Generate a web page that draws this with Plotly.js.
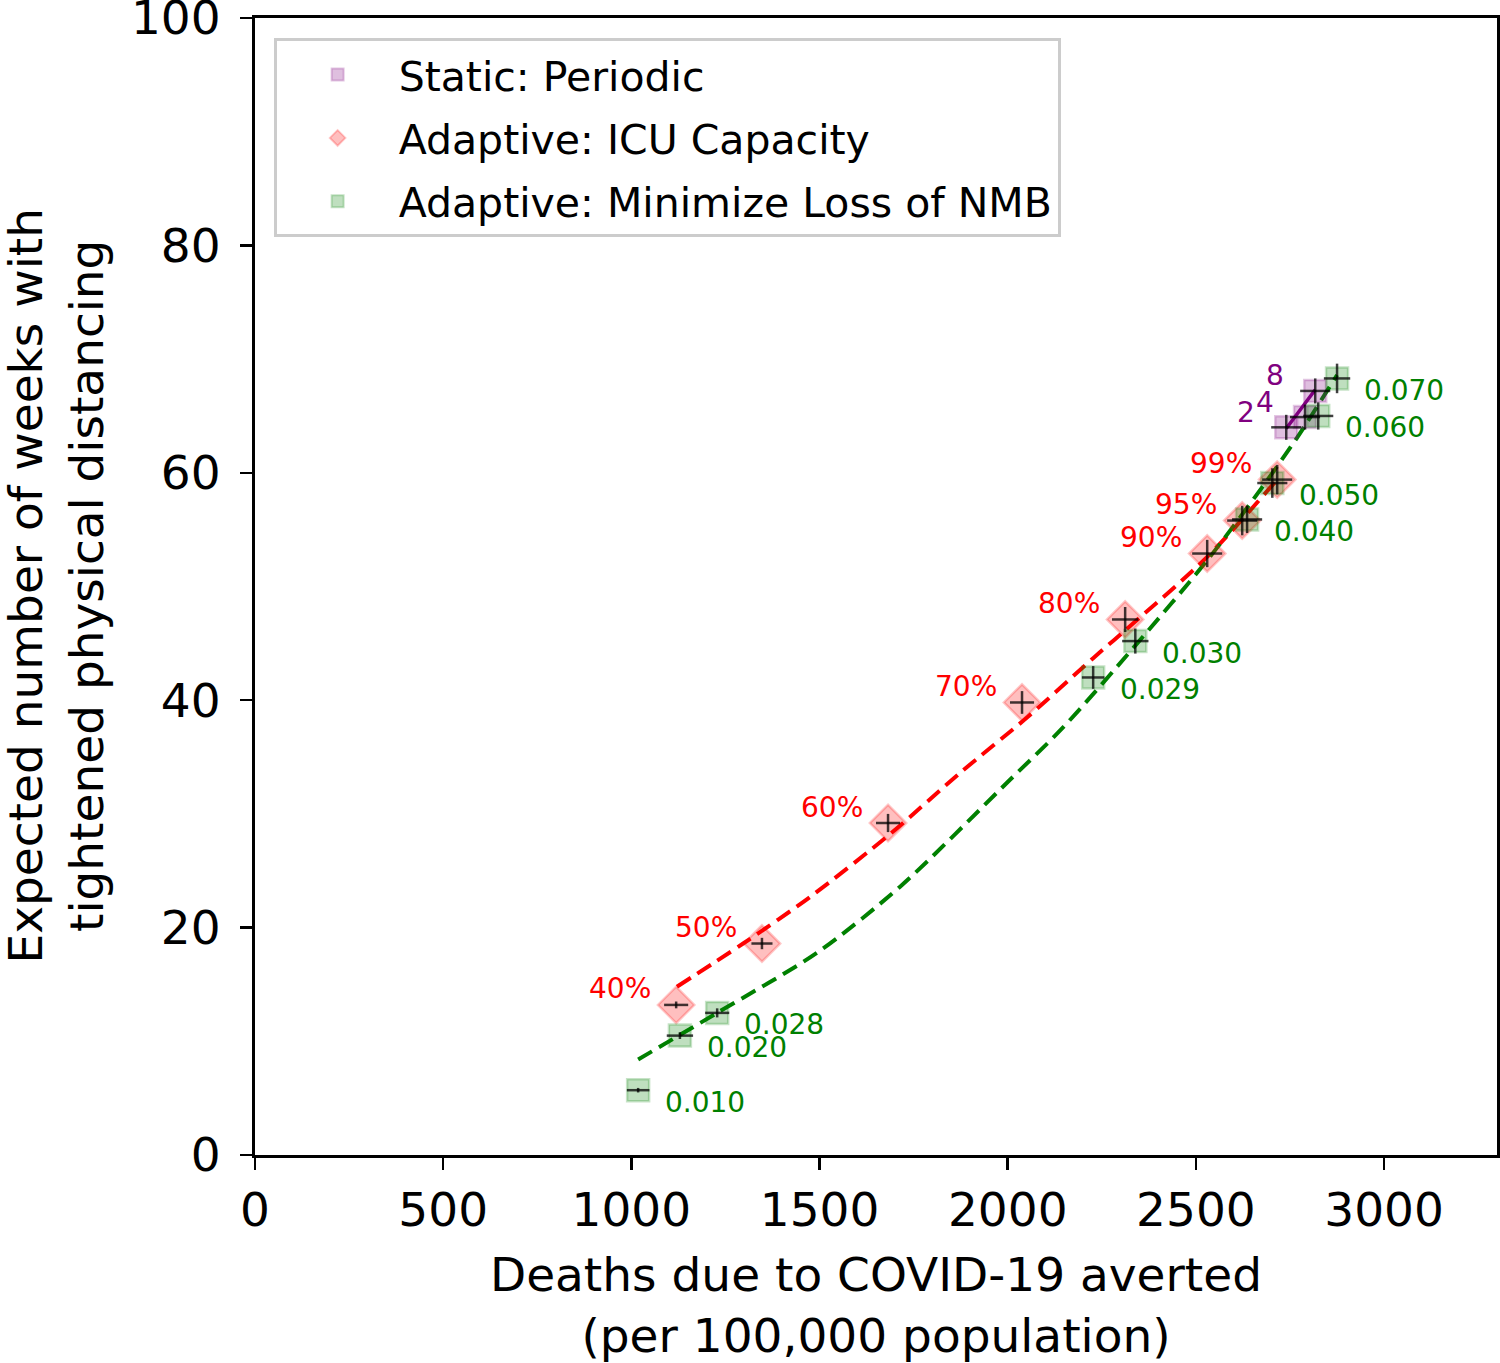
<!DOCTYPE html>
<html>
<head>
<meta charset="utf-8">
<script src="https://cdn.plot.ly/plotly-3.0.1.min.js"></script>
<style>
  body { margin: 0; background: #ffffff; }
  #chart { width: 1500px; height: 1363px; }
</style>
</head>
<body>
<div id="chart"></div>
<script>
// static periodic (weeks)
var periodic_labels = ['2', '4', '8']
var periodic_x = [2740, 2790, 2817]
var periodic_y = [64.0, 64.9, 67.2]
var periodic_ex = [40, 40, 40]
var periodic_ey = [1.1, 1.1, 1.1]
var periodic_fit_x = [2740, 2817]
var periodic_fit_y = [63.9, 67.3]

// adaptive: ICU capacity thresholds
var icu_labels = ['40%', '50%', '60%', '70%', '80%', '90%', '95%', '99%']
var icu_x = [1119, 1347, 1682, 2038, 2312, 2530, 2623, 2716]
var icu_y = [13.2, 18.6, 29.2, 39.8, 47.1, 52.9, 55.8, 59.4]
var icu_ex = [32, 28, 32, 32, 35, 40, 40, 40]
var icu_ey = [0.3, 0.5, 0.8, 1.0, 1.1, 1.2, 1.3, 1.3]
var icu_fit_x = [1121, 1297, 1475, 1690, 1873, 2052, 2227, 2307, 2530, 2716]
var icu_fit_y = [14.8, 18.6, 22.7, 28.3, 33.6, 38.5, 43.7, 46.0, 52.6, 59.4]

// adaptive: minimize loss of NMB (WTP values)
var nmb_labels = ['0.010', '0.020', '0.028', '0.029', '0.030', '0.040', '0.050', '0.060', '0.070']
var nmb_x = [1018, 1129, 1228, 2227, 2339, 2636, 2703, 2825, 2875]
var nmb_y = [5.7, 10.5, 12.5, 42.0, 45.2, 55.9, 59.1, 65.0, 68.3]
var nmb_ex = [30, 35, 32, 30, 35, 40, 40, 40, 35]
var nmb_ey = [0.2, 0.3, 0.4, 1.0, 1.1, 1.2, 1.3, 1.2, 1.3]
var nmb_fit_x = [1018, 1228, 1494, 1714, 2006, 2147, 2344, 2530, 2671, 2769, 2875]
var nmb_fit_y = [8.4, 12.5, 17.8, 23.6, 33.0, 37.6, 45.0, 52.3, 58.5, 63.1, 68.6]

var font_family = 'DejaVu Sans, sans-serif'

function fit_trace(xs, ys, color, dash, width) {
    return {
        type: 'scatter', mode: 'lines', x: xs, y: ys,
        line: { color: color, width: width, dash: dash, shape: 'spline', smoothing: 0.8 },
        showlegend: false, hoverinfo: 'skip'
    }
}

function marker_trace(xs, ys, name, symbol, size, rgb, group) {
    return {
        type: 'scatter', mode: 'markers', x: xs, y: ys, name: name,
        legendgroup: group,
        marker: {
            symbol: symbol, size: size,
            color: 'rgba(' + rgb + ',0.25)',
            line: { color: 'rgba(' + rgb + ',0.22)', width: 2.5 }
        }
    }
}

function error_trace(xs, ys, ex, ey) {
    return {
        type: 'scatter', mode: 'markers', x: xs, y: ys,
        marker: { size: 1, opacity: 0 },
        error_x: { type: 'data', array: ex, visible: true, color: 'rgba(0,0,0,0.75)', thickness: 2.5, width: 0 },
        error_y: { type: 'data', array: ey, visible: true, color: 'rgba(0,0,0,0.75)', thickness: 2.5, width: 0 },
        showlegend: false, hoverinfo: 'skip'
    }
}

function label_annotations(xs, ys, labels, color, dx, dy) {
    return labels.map(function (t, i) {
        return {
            x: xs[i], y: ys[i], text: t, showarrow: false,
            xshift: dx, yshift: dy,
            font: { family: font_family, size: 28, color: color }
        }
    })
}

var data = [
    fit_trace(icu_fit_x, icu_fit_y, '#ff0000', '16px,8px', 4),
    fit_trace(nmb_fit_x, nmb_fit_y, '#008000', '16px,8px', 4),
    fit_trace(periodic_fit_x, periodic_fit_y, '#800080', 'solid', 3.5),
    marker_trace(periodic_x, periodic_y, 'Static: Periodic', 'square', 22, '128,0,128', 'a'),
    marker_trace(icu_x, icu_y, 'Adaptive: ICU Capacity', 'diamond', 28, '255,0,0', 'b'),
    marker_trace(nmb_x, nmb_y, 'Adaptive: Minimize Loss of NMB', 'square', 22, '0,128,0', 'c'),
    error_trace(periodic_x, periodic_y, periodic_ex, periodic_ey),
    error_trace(icu_x, icu_y, icu_ex, icu_ey),
    error_trace(nmb_x, nmb_y, nmb_ex, nmb_ey)
]

var annotations = []
    .concat(label_annotations(periodic_x, periodic_y, periodic_labels, '#800080', -40, 15))
    .concat(label_annotations(icu_x, icu_y, icu_labels, '#ff0000', -56, 16))
    .concat(label_annotations(nmb_x, nmb_y, nmb_labels, '#008000', 67, -12))

// y axis title, placed by hand like the original
annotations.push({
    xref: 'paper', yref: 'paper', x: 0, y: 0.5, xshift: -200,
    xanchor: 'center', yanchor: 'middle', textangle: -90, showarrow: false,
    text: 'Expected number of weeks with<br>tightened physical distancing',
    font: { family: font_family, size: 47, color: '#000000' }
})

var layout = {
    width: 1500, height: 1363,
    margin: { l: 255, r: 3, t: 18, b: 208 },
    paper_bgcolor: '#ffffff',
    plot_bgcolor: '#ffffff',
    font: { family: font_family, size: 47, color: '#000000' },
    showlegend: true,
    legend: {
        x: 0.015, y: 0.982, xanchor: 'left', yanchor: 'top',
        bgcolor: 'rgba(255,255,255,0.8)', bordercolor: '#cccccc', borderwidth: 3,
        font: { family: font_family, size: 41, color: '#000000' },
        tracegroupgap: 7, itemsizing: 'constant', itemwidth: 112
    },
    xaxis: {
        range: [0, 3300], tickvals: [0, 500, 1000, 1500, 2000, 2500, 3000],
        showgrid: false, zeroline: false,
        showline: true, mirror: true, linecolor: '#000000', linewidth: 3,
        ticks: 'outside', ticklen: 12, tickwidth: 2.5, tickcolor: '#000000',
        tickfont: { family: font_family, size: 47 },
        title: { text: 'Deaths due to COVID-19 averted<br>(per 100,000 population)', font: { family: font_family, size: 47 }, standoff: 22 }
    },
    yaxis: {
        range: [0, 100], tickvals: [0, 20, 40, 60, 80, 100],
        showgrid: false, zeroline: false,
        showline: true, mirror: true, linecolor: '#000000', linewidth: 3,
        ticks: 'outside', ticklen: 12, tickwidth: 2.5, tickcolor: '#000000',
        tickfont: { family: font_family, size: 47 },
        ticklabelstandoff: 10, ticklabeloverflow: 'allow'
    },
    annotations: annotations
}

var config = { responsive: false, displayModeBar: false, staticPlot: true }

Plotly.newPlot('chart', data, layout, config)
</script>
</body>
</html>
